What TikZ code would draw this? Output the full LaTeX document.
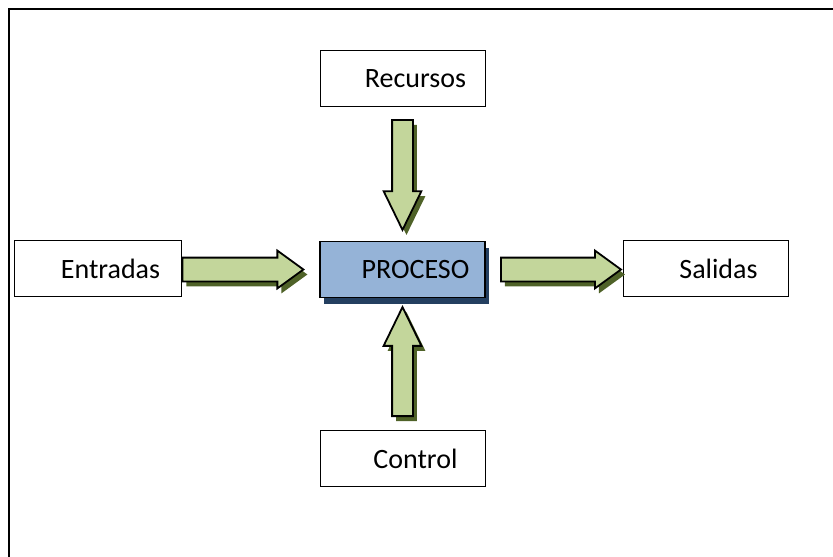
\documentclass[tikz,border=0pt]{standalone}
\usepackage{fontspec}
\setmainfont{Carlito}
\usetikzlibrary{shapes.arrows,shadows}
\definecolor{arrowgreen}{HTML}{C3D69B}
\definecolor{shadegreen}{HTML}{4F6228}
\definecolor{procblue}{HTML}{95B3D7}
\definecolor{procshade}{HTML}{243F60}
\tikzset{
	box/.style={draw, line width=1pt, fill=white, minimum width=165pt, minimum height=56pt, inner sep=0pt, font=\fontsize{28}{32}\selectfont, execute at begin node=\hspace*{26pt}},
	fat/.style={single arrow, draw, line width=1.8pt, fill=arrowgreen, drop shadow={fill=shadegreen, opacity=1, shadow xshift=4pt, shadow yshift=-5pt}},
	hfat/.style={fat, inner sep=11pt, single arrow head extend=7pt, single arrow tip angle=72},
	vfat/.style={fat, inner sep=9.5pt, single arrow head extend=8.5pt, single arrow tip angle=52},
}
\begin{document}
\begin{tikzpicture}[x=1pt, y=-1pt]
		\useasboundingbox (0, 0) rectangle (833, 557);
		\draw[line width=2pt] (9, 557)--(9, 9)--(833, 9);
		% cajas
		\node[box] (rec) at (402.5, 78.5) {Recursos};
		\node[box, minimum width=167pt] (ent) at (97.5, 268.5) {Entradas};
		\node[box, fill=procblue, line width=1.4pt, drop shadow={fill=procshade, opacity=1, shadow xshift=4pt, shadow yshift=-6pt}] (proc) at (402.5, 269.5) {PROCESO};
		\node[box] (sal) at (705.5, 268.5) {Salidas};
		\node[box] (ctl) at (402.5, 458.5) {Control};
		% flechas
		\node[hfat, minimum height=121pt, anchor=tail] (fent) at ([yshift=-1pt]ent.east) {};
		\node[hfat, minimum height=120pt, anchor=tip] (fsal) at ([yshift=-1pt]sal.west) {};
		\node[vfat, shape border rotate=270, minimum height=110pt, anchor=tail] (frec) at ([yshift=-12pt]rec.south) {};
		\node[vfat, shape border rotate=90, minimum height=109pt, anchor=tail] (fctl) at ([yshift=13pt]ctl.north) {};
	\end{tikzpicture}
\end{document}
